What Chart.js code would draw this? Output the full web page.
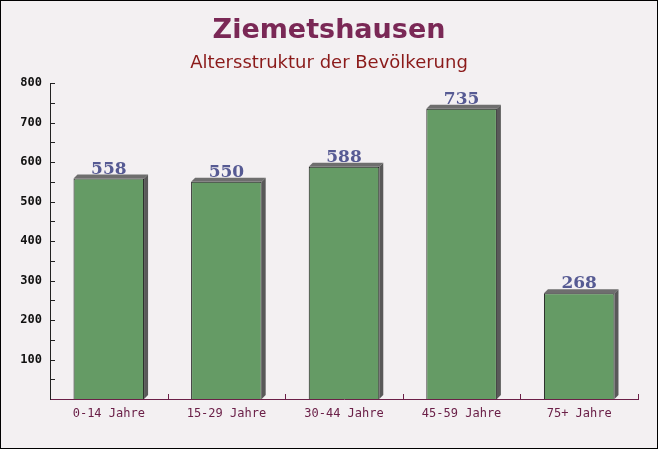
<!DOCTYPE html>
<html><head><meta charset="utf-8">
<script src="https://cdn.jsdelivr.net/npm/chart.js@4/dist/chart.umd.min.js"></script>
<style>html,body{margin:0;padding:0;background:#f3f0f2}canvas{display:block}</style>
</head><body>
<div style="width:658px;height:449px"><canvas id="c" width="658" height="449"></canvas></div>
<script>
const titleText = "Ziemetshausen";
const subtitleText = "Altersstruktur der Bevölkerung";
const categories = ["0-14 Jahre", "15-29 Jahre", "30-44 Jahre", "45-59 Jahre", "75+ Jahre"];
const values = [558, 550, 588, 735, 268];
const yMin = 0, yMax = 800, yStep = 50, yLabelStep = 100;

const deco = {
  id: 'deco',
  beforeDraw(chart) {
    const ctx = chart.ctx;
    ctx.save();
    ctx.fillStyle = '#f3f0f2';
    ctx.fillRect(0, 0, chart.width, chart.height);
    ctx.textAlign = 'center';
    ctx.textBaseline = 'middle';
    ctx.fillStyle = '#7a2856';
    ctx.font = 'bold 27px "DejaVu Sans"';
    ctx.fillText(titleText, chart.width / 2, 31);
    ctx.fillStyle = '#8b1a1a';
    ctx.font = '18px "DejaVu Sans"';
    ctx.fillText(subtitleText, chart.width / 2, 63);
    ctx.restore();
  },
  beforeDatasetsDraw(chart) {
    const ctx = chart.ctx;
    const meta = chart.getDatasetMeta(0);
    const d = 4;
    ctx.save();
    meta.data.forEach(bar => {
      const x0 = bar.x - bar.width / 2, x1 = bar.x + bar.width / 2;
      const top = bar.y, bottom = bar.base;
      ctx.fillStyle = '#6e6e6e';
      ctx.beginPath();
      ctx.moveTo(x0, top); ctx.lineTo(x0 + d, top - d); ctx.lineTo(x1 + d, top - d);
      ctx.lineTo(x1, top); ctx.closePath(); ctx.fill();
      ctx.fillStyle = '#595959';
      ctx.beginPath();
      ctx.moveTo(x1, top); ctx.lineTo(x1 + d, top - d); ctx.lineTo(x1 + d, bottom - d);
      ctx.lineTo(x1, bottom); ctx.closePath(); ctx.fill();
    });
    ctx.restore();
  },
  afterDatasetsDraw(chart) {
    const ctx = chart.ctx;
    const meta = chart.getDatasetMeta(0);
    const ys = chart.scales.y, xs = chart.scales.x;
    const a = chart.chartArea;
    ctx.save();
    ctx.fillStyle = '#565a93';
    ctx.font = 'bold 17px "DejaVu Serif"';
    ctx.textAlign = 'center';
    ctx.textBaseline = 'alphabetic';
    meta.data.forEach((bar, i) => {
      ctx.fillText(String(values[i]), bar.x, bar.y - 5);
    });
    ctx.strokeStyle = '#222';
    ctx.lineWidth = 1;
    for (let v = yMin + yStep; v <= yMax; v += yStep) {
      const y = Math.round(ys.getPixelForValue(v)) + 0.5;
      ctx.beginPath(); ctx.moveTo(a.left, y); ctx.lineTo(a.left + 5, y); ctx.stroke();
    }
    ctx.strokeStyle = '#6b2048';
    const n = categories.length;
    for (let i = 1; i <= n; i++) {
      const x = i < n ? (xs.getPixelForTick(i - 1) + xs.getPixelForTick(i)) / 2 : a.right;
      const xr = Math.round(x) + 0.5;
      ctx.beginPath(); ctx.moveTo(xr, a.bottom); ctx.lineTo(xr, a.bottom - 5); ctx.stroke();
    }
    ctx.restore();
  },
  afterDraw(chart) {
    const ctx = chart.ctx;
    ctx.save();
    ctx.strokeStyle = '#000';
    ctx.lineWidth = 1;
    ctx.strokeRect(0.5, 0.5, chart.width - 1, chart.height - 1);
    ctx.restore();
  }
};

new Chart(document.getElementById('c'), {
  type: 'bar',
  data: {
    labels: categories,
    datasets: [{
      data: values,
      backgroundColor: 'rgba(96,152,96,0.97)',
      borderColor: '#1a1a1a',
      borderWidth: { top: 1, left: 1, right: 1, bottom: 0 },
      barPercentage: 0.6,
      categoryPercentage: 1.0
    }]
  },
  options: {
    responsive: false,
    animation: false,
    devicePixelRatio: 1,
    layout: { padding: { left: 0, right: 20, top: 83, bottom: 0 } },
    plugins: { legend: { display: false }, title: { display: false }, tooltip: { enabled: false } },
    scales: {
      x: {
        grid: { display: false, drawTicks: false },
        border: { display: true, color: '#6b2048', width: 1 },
        ticks: { color: '#6b2048', font: { family: '"DejaVu Sans Mono"', size: 12 }, padding: 8, maxRotation: 0 },
        afterFit(s) { s.height = 50; }
      },
      y: {
        min: yMin, max: yMax,
        grid: { display: false, drawTicks: false },
        border: { display: true, color: '#222', width: 1 },
        ticks: {
          stepSize: yStep,
          color: '#111',
          font: { family: '"DejaVu Sans Mono"', size: 12, weight: 'bold' },
          padding: 8,
          callback: v => (v % yLabelStep === 0 && v !== 0) ? String(v) : ''
        },
        afterFit(s) { s.width = 50; }
      }
    }
  },
  plugins: [deco]
});
</script>
</body></html>
